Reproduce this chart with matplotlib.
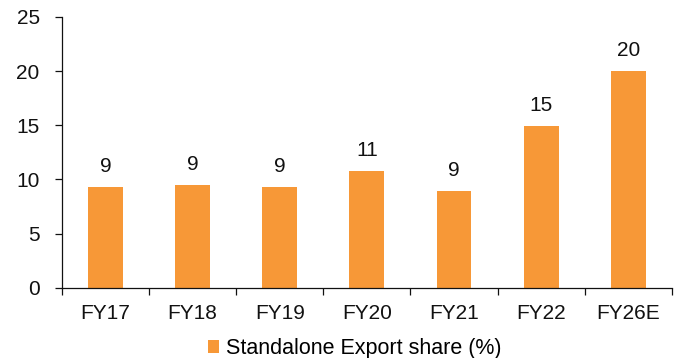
import matplotlib
matplotlib.use('Agg')
import matplotlib.pyplot as plt
import numpy as np

years = ['FY17', 'FY18', 'FY19', 'FY20', 'FY21', 'FY22', 'FY26E']
export_share = [9.3, 9.45, 9.3, 10.75, 8.95, 14.95, 20.0]
series_name = 'Standalone Export share (%)'

BAR_COLOR = '#F79837'
TEXT_COLOR = '#111111'
FS = 15

plt.rcParams['font.family'] = ['Liberation Sans', 'DejaVu Sans']

fig = plt.figure(figsize=(6.8, 3.58), dpi=100)
ax = fig.add_axes([0.091, 0.196, 0.897, 0.757])

x = np.arange(len(years))
ax.bar(x, export_share, width=0.4, color=BAR_COLOR, label=series_name, zorder=2)

# value labels above each bar
for xi, v in zip(x, export_share):
    ax.text(xi, v + 1.4, f'{v:.0f}', ha='center', va='baseline', fontsize=FS, color=TEXT_COLOR)

ax.set_xlim(-0.5, len(years) - 0.5)
ax.set_ylim(0, 25)
ax.set_yticks(range(0, 26, 5))
ax.tick_params(axis='y', labelsize=FS, length=5, width=0.9, colors=TEXT_COLOR, pad=11)

# category labels sit between the boundary ticks
ax.set_xticks(np.arange(-0.5, len(years), 1.0))
ax.set_xticklabels([])
ax.set_xticks(x, minor=True)
ax.set_xticklabels(years, minor=True)
ax.tick_params(axis='x', which='major', length=5, width=0.9, direction='out', colors=TEXT_COLOR)
ax.tick_params(axis='x', which='minor', length=0, labelsize=FS, pad=12, colors=TEXT_COLOR)

for s in ['top', 'right']:
    ax.spines[s].set_visible(False)
for s in ['left', 'bottom']:
    ax.spines[s].set_color(TEXT_COLOR)
    ax.spines[s].set_linewidth(0.9)

ax.legend(loc='upper center', bbox_to_anchor=(0.48, -0.13), frameon=False,
          fontsize=15.5, handlelength=0.5, handleheight=0.5, handletextpad=0.3,
          borderpad=0.2)

fig.savefig('out.png', dpi=100)
